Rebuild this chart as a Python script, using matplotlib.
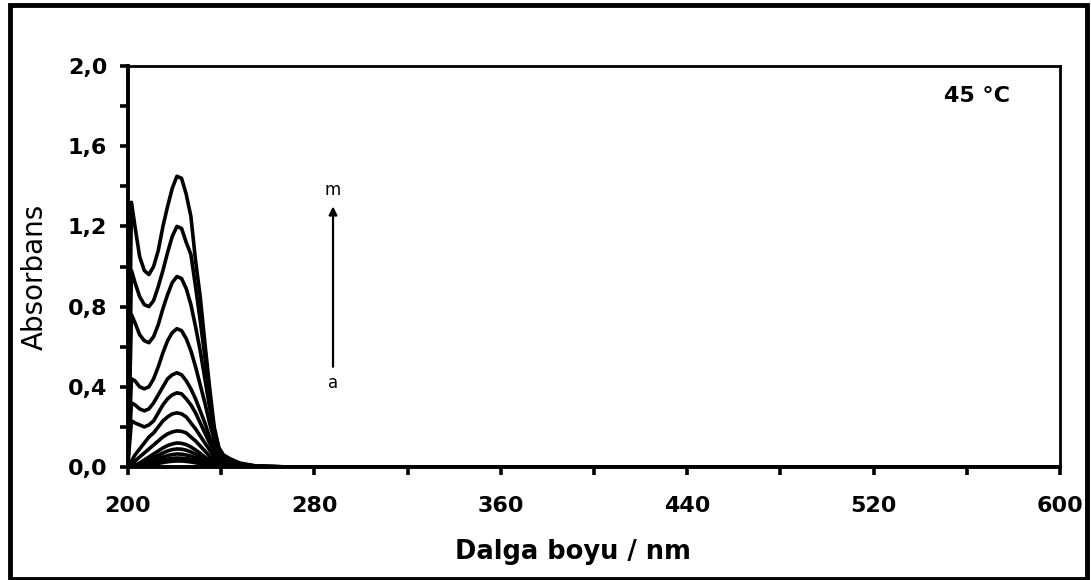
import matplotlib
matplotlib.use("Agg")
import matplotlib.pyplot as plt
from matplotlib.patches import Rectangle
from matplotlib.ticker import FixedLocator, FuncFormatter, MultipleLocator

# ── Data ────────────────────────────────────────────────────────────────────
wavelength = [200, 201.5, 203, 205, 207, 209, 211, 213, 215, 217, 219, 221,
              223, 225, 227, 229, 231, 233, 235, 237, 239, 241, 244, 248,
              255, 270, 600]

curve_labels = ["a", "b", "c", "d", "e", "f", "g", "h", "i", "j", "k", "l", "m"]

abs_a = [0, 0, 0, 0.002, 0.005, 0.009, 0.013, 0.018, 0.022, 0.026, 0.029, 0.030,
         0.030, 0.028, 0.025, 0.021, 0.017, 0.013, 0.009, 0.006, 0.003, 0.002,
         0.001, 0.0, 0.0, 0.0, 0.0]
abs_b = [0, 0, 0, 0.004, 0.009, 0.015, 0.021, 0.028, 0.034, 0.039, 0.043, 0.045,
         0.044, 0.042, 0.037, 0.032, 0.026, 0.019, 0.013, 0.008, 0.005, 0.003,
         0.001, 0.0, 0.0, 0.0, 0.0]
abs_c = [0, 0, 0.002, 0.007, 0.014, 0.023, 0.032, 0.041, 0.050, 0.057, 0.062,
         0.065, 0.064, 0.060, 0.054, 0.046, 0.037, 0.028, 0.019, 0.012, 0.007,
         0.004, 0.001, 0.0, 0.0, 0.0, 0.0]
abs_d = [0, 0, 0.005, 0.012, 0.022, 0.035, 0.047, 0.058, 0.070, 0.080, 0.087,
         0.090, 0.089, 0.084, 0.075, 0.064, 0.051, 0.038, 0.026, 0.016, 0.010,
         0.005, 0.002, 0.001, 0.0, 0.0, 0.0]
abs_e = [0, 0, 0.010, 0.020, 0.035, 0.050, 0.065, 0.080, 0.095, 0.107, 0.115,
         0.120, 0.118, 0.112, 0.100, 0.085, 0.068, 0.050, 0.035, 0.022, 0.013,
         0.007, 0.003, 0.001, 0.0, 0.0, 0.0]
abs_f = [0, 0.010, 0.030, 0.050, 0.070, 0.090, 0.110, 0.130, 0.150, 0.165, 0.175,
         0.180, 0.178, 0.170, 0.150, 0.130, 0.105, 0.080, 0.055, 0.035, 0.020,
         0.012, 0.006, 0.003, 0.001, 0.0, 0.0]
abs_g = [0, 0.030, 0.060, 0.090, 0.120, 0.150, 0.170, 0.200, 0.230, 0.250, 0.265,
         0.270, 0.265, 0.250, 0.220, 0.190, 0.155, 0.120, 0.085, 0.052, 0.032,
         0.018, 0.009, 0.004, 0.001, 0.0, 0.0]
abs_h = [0.02, 0.230, 0.220, 0.210, 0.200, 0.210, 0.230, 0.270, 0.310, 0.340,
         0.360, 0.370, 0.365, 0.340, 0.310, 0.270, 0.220, 0.170, 0.120, 0.075,
         0.042, 0.024, 0.012, 0.005, 0.002, 0.0, 0.0]
abs_i = [0.02, 0.320, 0.310, 0.290, 0.280, 0.290, 0.320, 0.360, 0.400, 0.440,
         0.460, 0.470, 0.460, 0.430, 0.390, 0.340, 0.280, 0.220, 0.150, 0.095,
         0.055, 0.030, 0.015, 0.007, 0.002, 0.0, 0.0]
abs_j = [0.02, 0.440, 0.430, 0.400, 0.390, 0.400, 0.440, 0.500, 0.570, 0.630,
         0.670, 0.690, 0.680, 0.640, 0.580, 0.500, 0.410, 0.320, 0.220, 0.135,
         0.075, 0.040, 0.020, 0.009, 0.003, 0.0, 0.0]
abs_k = [0.02, 0.760, 0.720, 0.660, 0.630, 0.620, 0.650, 0.710, 0.790, 0.860,
         0.920, 0.950, 0.940, 0.890, 0.810, 0.700, 0.580, 0.440, 0.300, 0.170,
         0.090, 0.050, 0.027, 0.012, 0.004, 0.0, 0.0]
abs_l = [0.02, 0.980, 0.920, 0.850, 0.810, 0.800, 0.830, 0.900, 0.980, 1.070,
         1.150, 1.200, 1.190, 1.120, 1.060, 0.900, 0.730, 0.550, 0.360, 0.190,
         0.095, 0.055, 0.032, 0.015, 0.005, 0.0, 0.0]
abs_m = [0.02, 1.320, 1.200, 1.050, 0.980, 0.960, 1.000, 1.080, 1.200, 1.300,
         1.390, 1.450, 1.440, 1.360, 1.250, 1.030, 0.850, 0.620, 0.400, 0.200,
         0.095, 0.060, 0.040, 0.020, 0.005, 0.0, 0.0]

spectra = [abs_a, abs_b, abs_c, abs_d, abs_e, abs_f, abs_g,
           abs_h, abs_i, abs_j, abs_k, abs_l, abs_m]

x_major = [200, 280, 360, 440, 520, 600]
x_minor = [240, 320, 400, 480, 560]

# arrow a -> m (data coordinates)
arrow_x = 288
arrow_y0, arrow_y1 = 0.50, 1.30

# ── Figure ──────────────────────────────────────────────────────────────────
plt.rcParams["font.family"] = ["DejaVu Sans"]

fig = plt.figure(figsize=(10.91, 5.80), dpi=100)
ax = fig.add_axes([0.1173, 0.1948, 0.8543, 0.6914])

for ys in spectra:
    ax.plot(wavelength, ys, color="black", linewidth=2.6,
            solid_joinstyle="round", zorder=3)

ax.set_xlim(200, 600)
ax.set_ylim(0, 2.0)

ax.xaxis.set_major_locator(FixedLocator(x_major))
ax.xaxis.set_minor_locator(FixedLocator(x_minor))
ax.yaxis.set_major_locator(MultipleLocator(0.4))
ax.yaxis.set_minor_locator(MultipleLocator(0.2))
ax.yaxis.set_major_formatter(FuncFormatter(lambda v, p: f"{v:.1f}".replace(".", ",")))

ax.tick_params(axis="both", which="both", direction="out", length=6,
               width=2.6, color="black")
ax.tick_params(axis="y", which="major", pad=9, labelsize=16)
ax.tick_params(axis="x", which="major", pad=15, labelsize=16)
for lbl in ax.get_xticklabels() + ax.get_yticklabels():
    lbl.set_fontweight("bold")

ax.spines["left"].set_linewidth(2.8)
ax.spines["bottom"].set_linewidth(2.8)
ax.spines["top"].set_linewidth(2.0)
ax.spines["right"].set_linewidth(2.0)

# labels
fig.text(573 / 1091, 1 - 552 / 580, "Dalga boyu / nm", ha="center",
         va="center", fontsize=18.5, fontweight="bold")
fig.text(35 / 1091, 1 - 277 / 580, "Absorbans", ha="center", va="center",
         rotation=90, fontsize=20)

ax.text(0.946, 0.925, "45 °C", transform=ax.transAxes, ha="right",
        va="center", fontsize=16, fontweight="bold")

# a -> m arrow
ax.annotate("", xy=(arrow_x, arrow_y1), xytext=(arrow_x, arrow_y0),
            arrowprops=dict(arrowstyle="-|>", color="black", lw=1.6,
                            mutation_scale=12, shrinkA=0, shrinkB=0))
ax.text(arrow_x, arrow_y1 + 0.08, curve_labels[-1], ha="center",
        va="center", fontsize=12)
ax.text(arrow_x, arrow_y0 - 0.08, curve_labels[0], ha="center",
        va="center", fontsize=12)

# outer frame
fig.patches.append(Rectangle((9.5 / 1091, 1.5 / 580), 1077.5 / 1091,
                             574 / 580, transform=fig.transFigure,
                             fill=False, edgecolor="black", linewidth=3.5))

fig.savefig("out.png", dpi=100)
